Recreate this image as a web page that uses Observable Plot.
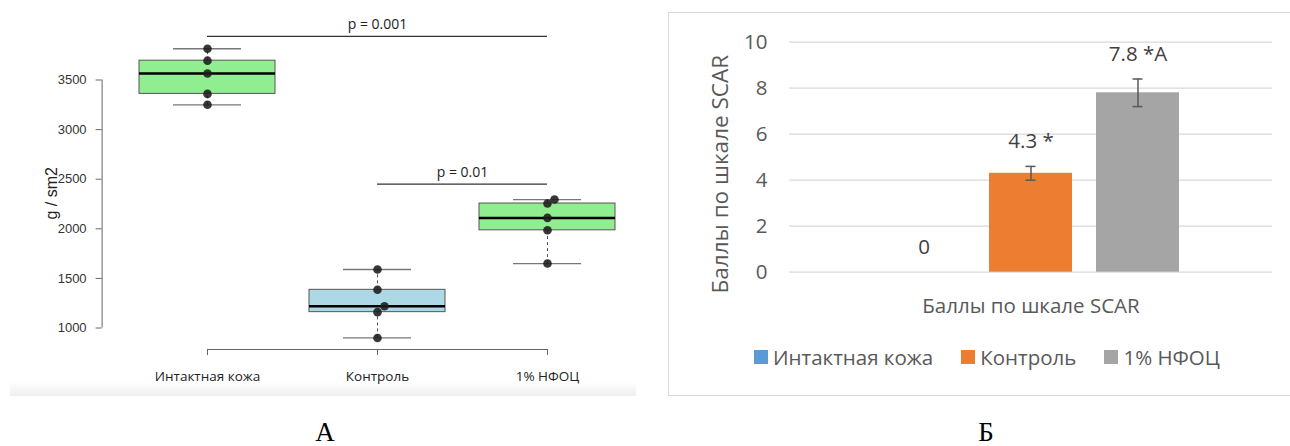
<!DOCTYPE html>
<html>
<head>
<meta charset="utf-8">
<script src="https://cdn.jsdelivr.net/npm/d3@7"></script>
<script src="https://cdn.jsdelivr.net/npm/@observablehq/plot@0.6"></script>
<style>
html, body { margin: 0; padding: 0; background: #fff; }
#root { position: relative; width: 1290px; height: 446px; overflow: hidden; background: #fff; }
.abs { position: absolute; }
#shadeA { left: 10px; top: 382px; width: 626px; height: 14px; background: linear-gradient(to bottom, rgba(238,238,238,0), #eeeeee); }
#frameB { left: 668px; top: 12px; width: 700px; height: 384px; box-sizing: border-box; border: 1.5px solid #d9d9d9; }
#legendB { left: 754px; top: 344px; height: 26px; display: flex; align-items: center; font-family: "Open Sans", sans-serif; font-size: 20.5px; color: #595959; white-space: nowrap; }
#legendB .item { display: flex; align-items: center; margin-right: 28px; }
#legendB .sw { width: 14px; height: 14px; margin-right: 5px; }
.cap { font-family: "Liberation Serif", "Times New Roman", serif; font-size: 27px; line-height: 27px; color: #000; transform: translateX(-50%); }
</style>
</head>
<body>
<div id="root"></div>
<script>
// ---------- Panel A data (box plot, g / sm2) ----------
const groups = ["Интактная кожа", "Контроль", "1% НФОЦ"];
const intactValues = [3250, 3360, 3565, 3695, 3815];
const controlValues = [900, 1160, 1220, 1385, 1590];
const nfocValues = [1650, 1985, 2110, 2255, 2295];
const boxColors = ["#90EE90", "#ADD8E6", "#90EE90"];
const yTicksA = [1000, 1500, 2000, 2500, 3000, 3500];
const yTitleA = "g / sm2";
const pLabels = ["p = 0.001", "p = 0.01"];
const pFrom = [1, 2];
const pTo = [3, 3];
const pLevels = [3940, 2450];

// ---------- Panel B data (SCAR score bars) ----------
const scarCategory = "Баллы по шкале SCAR";
const scarSeries = ["Интактная кожа", "Контроль", "1% НФОЦ"];
const scarMeans = [0, 4.3, 7.8];
const scarErrors = [0, 0.3, 0.6];
const scarSuffix = ["", " *", " *A"];
const scarColors = ["#5B9BD5", "#ED7D31", "#A5A5A5"];
const yTicksB = [0, 2, 4, 6, 8, 10];
const yTitleB = "Баллы по шкале SCAR";
const panelCaptions = ["А", "Б"];

const root = document.getElementById("root");

// ---------- Panel A ----------
const seriesA = [intactValues, controlValues, nfocValues];
const n = groups.length;
const stats = seriesA.map((vals, i) => {
  const s = d3.sort(vals);
  return {g: groups[i], pos: i + 1, min: s[0], q1: d3.quantile(s, 0.25),
          med: d3.median(s), q3: d3.quantile(s, 0.75), max: s[s.length - 1]};
});
const points = [];
seriesA.forEach((vals, i) => {
  const s = d3.sort(vals);
  let prev = false;
  s.forEach((v, j) => {
    const shift = j > 0 && !prev && (v - s[j - 1]) < 80;
    points.push({pos: i + 1, v, shift});
    prev = shift;
  });
});
const allA = seriesA.flat();
const [minA, maxA] = d3.extent(allA);
const padA = (maxA - minA) * 0.04;
const yDomA = [minA - padA, maxA + padA];
const xDomA = [0.5 - 0.04 * n, n + 0.5 + 0.04 * n];
const pRows = pLabels.map((label, i) => ({label, from: pFrom[i], to: pTo[i], level: pLevels[i]}));

const chartA = Plot.plot({
  width: 660, height: 400,
  marginLeft: 101.6, marginRight: 7.6, marginTop: 36.7, marginBottom: 51,
  x: {domain: xDomA},
  y: {domain: yDomA},
  color: {domain: groups, range: boxColors},
  style: {fontFamily: "Liberation Sans, Arial, sans-serif", background: "transparent", overflow: "visible"},
  marks: [
    Plot.ruleX([xDomA[0]], {x: d => d, y1: yTicksA[0], y2: yTicksA[yTicksA.length - 1], stroke: "#666"}),
    Plot.axisY({ticks: yTicksA, tickFormat: d => String(d), tickSize: 6, tickPadding: 9.5, fontSize: 13,
                stroke: "#666", fill: "#333", label: null}),
    Plot.ruleY([yDomA[0]], {y: d => d, x1: 1, x2: n, stroke: "#666"}),
    Plot.axisX({ticks: d3.range(1, n + 1), tickFormat: d => groups[d - 1], tickSize: 6, tickPadding: 16,
                fontSize: 13.5, fontFamily: "Open Sans, sans-serif", stroke: "#666", fill: "#222", label: null}),
    Plot.text([yTitleA], {text: d => d, frameAnchor: "left", textAnchor: "middle", rotate: -90, dx: -50,
                          fontSize: 16, fill: "#222"}),
    Plot.ruleX(stats, {x: "pos", y1: "q3", y2: "max", stroke: "#555", strokeDasharray: "3,3"}),
    Plot.ruleX(stats, {x: "pos", y1: "min", y2: "q1", stroke: "#555", strokeDasharray: "3,3"}),
    Plot.ruleY(stats, {y: "max", x1: d => d.pos - 0.2, x2: d => d.pos + 0.2, stroke: "#777", strokeWidth: 1.3}),
    Plot.ruleY(stats, {y: "min", x1: d => d.pos - 0.2, x2: d => d.pos + 0.2, stroke: "#777", strokeWidth: 1.3}),
    Plot.rect(stats, {x1: d => d.pos - 0.4, x2: d => d.pos + 0.4, y1: "q1", y2: "q3", fill: "g", stroke: "#555", strokeWidth: 1}),
    Plot.ruleY(stats, {y: "med", x1: d => d.pos - 0.4, x2: d => d.pos + 0.4, stroke: "#000", strokeWidth: 2.5}),
    Plot.dot(points.filter(p => !p.shift), {x: "pos", y: "v", r: 4.3, fill: "#1c1c1c", fillOpacity: 0.88, stroke: "none"}),
    Plot.dot(points.filter(p => p.shift), {x: "pos", y: "v", r: 4.3, dx: 7, fill: "#1c1c1c", fillOpacity: 0.88, stroke: "none"}),
    Plot.ruleY(pRows, {y: "level", x1: "from", x2: "to", stroke: "#333", strokeWidth: 1.2}),
    Plot.text(pRows, {x: d => (d.from + d.to) / 2, y: "level", text: "label", dy: -12, fontSize: 14,
                      fontFamily: "Open Sans, sans-serif", fill: "#222"})
  ]
});

// ---------- Panel B ----------
const scarRows = scarSeries.map((s, i) => ({cat: scarCategory, s, v: scarMeans[i], e: scarErrors[i],
                                             label: String(scarMeans[i]) + scarSuffix[i]}));
const errRows = scarRows.filter(d => d.e > 0);

const chartB = Plot.plot({
  width: 630, height: 330,
  marginLeft: 129, marginRight: 18, marginTop: 41.7, marginBottom: 58.3,
  fx: {domain: [scarCategory], padding: 0},
  x: {domain: scarSeries, paddingInner: 0.22, paddingOuter: 0.852, axis: null},
  y: {domain: [0, 10]},
  color: {domain: scarSeries, range: scarColors},
  style: {fontFamily: "Open Sans, sans-serif", background: "transparent", overflow: "visible"},
  marks: [
    Plot.gridY(yTicksB, {stroke: "#d9d9d9", strokeOpacity: 1, strokeWidth: 1.3}),
    Plot.axisY({ticks: yTicksB, tickSize: 0, tickPadding: 22, fontSize: 20.5, fill: "#595959", label: null}),
    Plot.text([yTitleB], {text: d => d, frameAnchor: "left", textAnchor: "middle", rotate: -90, dx: -69, dy: 17,
                          fontSize: 22.5, fill: "#595959"}),
    Plot.barY(scarRows, {fx: "cat", x: "s", y: "v", fill: "s"}),
    Plot.ruleX(errRows, {fx: "cat", x: "s", y1: d => d.v - d.e, y2: d => d.v + d.e, stroke: "#595959", strokeWidth: 1.5}),
    Plot.tickY(errRows, {fx: "cat", x: "s", y: d => d.v + d.e, insetLeft: 36.5, insetRight: 36.5, stroke: "#595959", strokeWidth: 1.5}),
    Plot.tickY(errRows, {fx: "cat", x: "s", y: d => d.v - d.e, insetLeft: 36.5, insetRight: 36.5, stroke: "#595959", strokeWidth: 1.5}),
    Plot.text(scarRows, {fx: "cat", x: "s", y: d => d.v + d.e, text: "label", dy: -25, fontSize: 20.5, fill: "#404040"}),
    Plot.axisFx({anchor: "bottom", tickSize: 0, tickPadding: 26, fontSize: 20.5, fill: "#595959", label: null})
  ]
});

// ---------- Layout ----------
const shade = document.createElement("div");
shade.className = "abs"; shade.id = "shadeA";
root.appendChild(shade);

const frameB = document.createElement("div");
frameB.className = "abs"; frameB.id = "frameB";
root.appendChild(frameB);

chartA.style.position = "absolute"; chartA.style.left = "0px"; chartA.style.top = "0px";
root.appendChild(chartA);
chartB.style.position = "absolute"; chartB.style.left = "660px"; chartB.style.top = "0px";
root.appendChild(chartB);

const legend = document.createElement("div");
legend.className = "abs"; legend.id = "legendB";
scarSeries.forEach((s, i) => {
  const item = document.createElement("div"); item.className = "item";
  const sw = document.createElement("div"); sw.className = "sw"; sw.style.background = scarColors[i];
  const lab = document.createElement("span"); lab.textContent = s;
  item.appendChild(sw); item.appendChild(lab); legend.appendChild(item);
});
root.appendChild(legend);

[325, 986].forEach((x, i) => {
  const c = document.createElement("div");
  c.className = "abs cap"; c.style.left = x + "px"; c.style.top = "419px";
  c.textContent = panelCaptions[i];
  root.appendChild(c);
});
</script>
</body>
</html>
